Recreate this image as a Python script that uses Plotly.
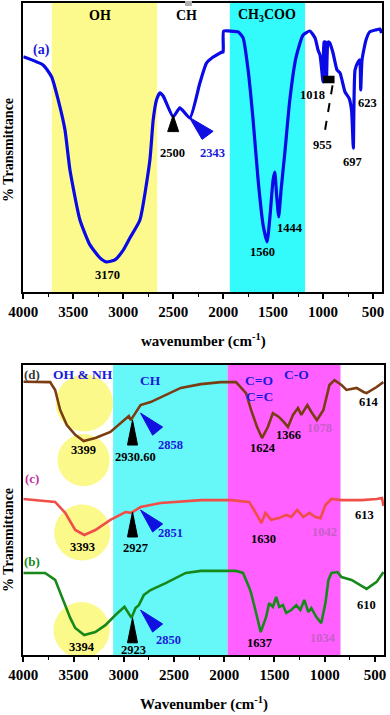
import plotly.graph_objects as go

# ---- dados ----
# painel (a)
wn_a = [4000, 3800, 3716, 3650, 3583, 3533, 3433, 3333, 3233, 3170, 3083, 3000, 2933, 2833,
        2733, 2700, 2667, 2633, 2600, 2500, 2433, 2333, 2233, 2167, 2100, 2013, 2000, 1995,
        1933, 1850, 1800, 1750, 1700, 1650, 1600, 1560, 1530, 1500, 1483, 1465, 1444, 1420,
        1380, 1333, 1270, 1200, 1133, 1080, 1050, 1030, 1000, 990, 975, 965, 950, 933, 900,
        860, 830, 780, 740, 715, 697, 680, 650, 633, 623, 610, 570, 533, 470, 430, 415]
t_a = [81.4, 78.5, 74.4, 66.4, 56.1, 42.2, 24.9, 16.3, 11.8, 10.4, 11.1, 14.5, 18.7, 24.9,
       45.7, 59.5, 66.4, 68.9, 67.8, 60.6, 63.7, 60.2, 72.3, 79.2, 81.3, 83.0, 83.0, 90.3,
       90.3, 90.0, 87.9, 76.8, 59.5, 38.8, 23.2, 17.3, 26.6, 38.8, 41.5, 33.6, 26.0, 35.3,
       49.1, 66.4, 81.3, 88.9, 90.3, 87.9, 83.7, 82.0, 72.7, 86.5, 86.5, 74.4, 86.5, 86.2, 82.7,
       76.8, 75.8, 69.2, 67.1, 63.0, 49.8, 76.8, 79.6, 80.3, 69.9, 80.3, 87.2, 90.0, 90.7, 91.0, 89.6]

# painel inferior (d), (c), (b)
wn_d = [4000, 3733, 3683, 3633, 3567, 3483, 3399, 3283, 3133, 3033, 2950, 2930, 2883, 2833,
        2733, 2583, 2433, 2233, 2033, 1883, 1783, 1733, 1673, 1624, 1566, 1516, 1456, 1406,
        1366, 1316, 1266, 1233, 1173, 1133, 1078, 1013, 953, 903, 833, 783, 683, 614, 583, 483, 416]
t_d = [94.2, 94.1, 91.4, 84.5, 79.3, 75.9, 73.8, 74.8, 76.9, 80.0, 82.4, 81.0, 83.4, 86.2,
       87.2, 89.7, 92.1, 93.4, 94.1, 94.1, 90.3, 84.5, 78.6, 74.8, 78.6, 83.4, 82.1, 80.3,
       78.6, 82.8, 85.2, 82.8, 86.2, 83.8, 81.0, 84.5, 93.1, 94.8, 93.1, 91.4, 92.1, 90.7, 90.3, 92.4, 94.1]

wn_c = [4000, 3683, 3583, 3483, 3393, 3283, 3133, 2983, 2927, 2833, 2633, 2233, 1933, 1753,
        1703, 1650, 1630, 1590, 1533, 1456, 1383, 1333, 1273, 1213, 1153, 1093, 1042, 993,
        933, 833, 633, 483, 430, 415]
t_c = [53.8, 52.8, 49.0, 43.1, 41.4, 43.1, 46.6, 49.3, 49.0, 51.0, 52.4, 53.4, 53.4, 52.8,
       50.0, 46.6, 45.5, 49.0, 46.6, 47.2, 48.3, 47.6, 50.0, 47.6, 49.0, 47.6, 47.2, 51.7,
       53.8, 53.4, 53.4, 53.8, 54.1, 51.4]

wn_b = [4000, 3783, 3683, 3633, 3583, 3533, 3483, 3394, 3283, 3183, 3083, 2993, 2923, 2883,
        2850, 2800, 2733, 2583, 2383, 2233, 1883, 1813, 1753, 1733, 1683, 1637, 1583, 1553,
        1516, 1483, 1453, 1416, 1383, 1333, 1283, 1243, 1203, 1163, 1133, 1083, 1034, 993,
        963, 933, 873, 833, 733, 653, 610, 583, 483, 415]
t_b = [28.3, 28.3, 25.9, 21.7, 17.2, 12.8, 9.3, 6.9, 7.9, 10.3, 13.8, 16.6, 12.8, 16.2,
       17.2, 20.7, 22.4, 24.8, 28.3, 29.0, 29.0, 28.3, 23.4, 21.4, 14.5, 7.9, 13.1, 17.9,
       16.6, 20.0, 16.6, 17.2, 14.5, 15.5, 17.2, 15.5, 19.0, 14.8, 16.2, 13.1, 11.0, 17.9,
       25.9, 28.3, 28.6, 26.9, 25.9, 24.1, 23.1, 22.8, 25.2, 28.6]

# rotulos dos picos: (texto, x, y, cor)
picos_a = [("3170", 3153, 5.9, "black"), ("2500", 2503, 48.1, "black"), ("2343", 2103, 48.1, "#1a1adc"),
           ("1560", 1603, 13.8, "black"), ("1444", 1333, 22.1, "black"), ("1018", 1103, 68.2, "black"),
           ("955", 1003, 50.9, "black"), ("697", 703, 45.0, "black"), ("623", 553, 65.4, "black")]
picos_baixo = [("3399", 3403, 70.7, "black"), ("2930.60", 2883, 68.3, "black"), ("2858", 2533, 72.4, "#1a1adc"),
               ("1624", 1613, 71.4, "black"), ("1366", 1363, 75.9, "black"), ("1078", 1053, 78.3, "#c85ec8"),
               ("614", 563, 87.2, "black"),
               ("3393", 3413, 37.2, "black"), ("2927", 2883, 36.9, "black"), ("2851", 2533, 42.1, "#1a1adc"),
               ("1630", 1613, 40.0, "black"), ("1042", 1003, 42.4, "#c85ec8"), ("613", 603, 48.3, "black"),
               ("3394", 3413, 2.8, "black"), ("2923", 2903, 1.7, "black"), ("2850", 2553, 5.2, "#1a1adc"),
               ("1637", 1653, 4.1, "black"), ("1034", 1013, 5.9, "#c85ec8"), ("610", 583, 17.2, "black")]

# picos marcados com triangulos (x do vertice, y do vertice)
tri_preto_baixo = [(2913, 81.0), (2913, 49.3), (2913, 12.8)]
tri_azul_baixo = [(2833, 83.4), (2833, 50.0), (2833, 15.5)]

FONTE = "Liberation Serif"

fig = go.Figure()

fig.add_trace(go.Scatter(x=wn_a, y=t_a, mode="lines", line=dict(color="#0a0ae6", width=3.2, shape="spline", smoothing=0.5),
                         xaxis="x", yaxis="y", showlegend=False))
fig.add_trace(go.Scatter(x=wn_d, y=t_d, mode="lines", line=dict(color="#7a3c12", width=2.6),
                         xaxis="x2", yaxis="y2", showlegend=False))
fig.add_trace(go.Scatter(x=wn_c, y=t_c, mode="lines", line=dict(color="#f04e48", width=2.6),
                         xaxis="x2", yaxis="y2", showlegend=False))
fig.add_trace(go.Scatter(x=wn_b, y=t_b, mode="lines", line=dict(color="#17891a", width=2.6),
                         xaxis="x2", yaxis="y2", showlegend=False))

shapes = []
# faixas do painel (a)
shapes.append(dict(type="rect", xref="x", yref="y", x0=3715, x1=2660, y0=0, y1=100,
                   fillcolor="#fcfa8c", line_width=0, layer="below"))
shapes.append(dict(type="rect", xref="x", yref="y", x0=1933, x1=1180, y0=0, y1=100,
                   fillcolor="#33fbfb", line_width=0, layer="below"))
# faixas do painel inferior
shapes.append(dict(type="rect", xref="x2", yref="y2", x0=3106, x1=1966, y0=-1, y1=100,
                   fillcolor="#66f8f8", line_width=0, layer="below"))
shapes.append(dict(type="rect", xref="x2", yref="y2", x0=1966, x1=843, y0=0, y1=100.7,
                   fillcolor="#ff60ff", line_width=0, layer="below"))
for cx, cy, r in [(3393, 86.9, 28.5), (3400, 67.2, 26), (3413, 42.2, 28), (3420, 8.6, 28)]:
    shapes.append(dict(type="circle", xref="x2", yref="y2", x0=cx + r * 10, x1=cx - r * 10,
                       y0=cy - r / 2.9, y1=cy + r / 2.9, fillcolor="#fbf98a", line_width=0, layer="below"))


def triangulo(xr, yr, pts, cor):
    path = "M " + " L ".join(f"{x},{y}" for x, y in pts) + " Z"
    return dict(type="path", xref=xr, yref=yr, path=path, fillcolor=cor, line=dict(color=cor, width=1))


# triangulos painel (a)
shapes.append(triangulo("x", "y", [(2500, 61.2), (2555, 55.5), (2445, 55.5)], "black"))
shapes.append(triangulo("x", "y", [(2340, 60.5), (2100, 55.6), (2210, 52.8)], "#1010e0"))
# marca 1018 e linha tracejada ate 955
shapes.append(dict(type="rect", xref="x", yref="y", x0=1000, x1=885, y0=72.2, y1=74.8,
                   fillcolor="black", line_width=0))
shapes.append(dict(type="line", xref="x", yref="y", x0=905, y0=71.5, x1=985, y1=55.0,
                   line=dict(color="black", width=2, dash="dash")))
# marca cinza no topo
shapes.append(dict(type="rect", xref="paper", yref="paper", x0=185 / 390, x1=192 / 390,
                   y0=1 - 6 / 715, y1=1 - 1 / 715, fillcolor="#b0b0b0", line_width=0))

for x, y in tri_preto_baixo:
    shapes.append(triangulo("x2", "y2", [(x, y), (x + 50, y - 8.6), (x - 50, y - 8.6)], "black"))
for x, y in tri_azul_baixo:
    shapes.append(triangulo("x2", "y2", [(x, y), (x - 220, y - 4.8), (x - 120, y - 7.6)], "#1010e0"))

anots = []


def txt(texto, x, y, cor, xr, yr, tam=12.5):
    anots.append(dict(text=f"<b>{texto}</b>", x=x, y=y, xref=xr, yref=yr, showarrow=False,
                      font=dict(family=FONTE, size=tam, color=cor), xanchor="center", yanchor="middle"))


for t, x, y, c in picos_a:
    txt(t, x, y, c, "x", "y")
for t, x, y, c in picos_baixo:
    txt(t, x, y, c, "x2", "y2")

txt("OH", 3233, 95.8, "black", "x", "y", 14)
txt("CH", 2363, 95.8, "black", "x", "y", 14)
txt("CH<sub>3</sub>COO", 1563, 95.8, "black", "x", "y", 14)
txt("(a)", 3813, 83.7, "#1a1adc", "x", "y", 14)

txt("(d)", 3913, 96.6, "#3a3a3a", "x2", "y2", 13)
txt("(c)", 3913, 60.7, "#c0309a", "x2", "y2", 13)
txt("(b)", 3913, 32.1, "#17891a", "x2", "y2", 13)
txt("OH &amp; NH", 3403, 96.6, "#1a1adc", "x2", "y2", 13.5)
txt("CH", 2733, 94.8, "#1a1adc", "x2", "y2", 13.5)
txt("C=O", 1653, 94.8, "#1a1adc", "x2", "y2", 13.5)
txt("C-O", 1283, 96.6, "#1a1adc", "x2", "y2", 13.5)
txt("C=C", 1653, 89.0, "#1a1adc", "x2", "y2", 13.5)

# titulos dos eixos
txt("wavenumber (cm<sup>-1</sup>)", 0.523, 1 - 340 / 715, "black", "paper", "paper", 15)
txt("Wavenumber (cm<sup>-1</sup>)", 0.523, 1 - 703 / 715, "black", "paper", "paper", 15)
for yc in [150, 540]:
    anots.append(dict(text="<b>% Transmittance</b>", x=8 / 390, y=1 - yc / 715, xref="paper", yref="paper",
                      showarrow=False, textangle=-90, font=dict(family=FONTE, size=14, color="black"),
                      xanchor="center", yanchor="middle"))

eixo_x = dict(range=[4000, 410], tickvals=[4000, 3500, 3000, 2500, 2000, 1500, 1000, 500],
              ticks="outside", ticklen=5, tickwidth=1.5, tickcolor="black", automargin=False,
              minor=dict(dtick=250, tick0=0, ticks="outside", ticklen=3, tickwidth=1.2, tickcolor="black"),
              showline=True, linecolor="black", linewidth=1.8, mirror=True, showgrid=False, zeroline=False,
              tickfont=dict(family=FONTE, size=15, color="black", weight="bold"))
eixo_y = dict(range=[0, 100], showticklabels=False, ticks="", showline=True, linecolor="black",
              linewidth=1.8, mirror=True, showgrid=False, zeroline=False, fixedrange=True, automargin=False)

fig.update_layout(
    width=390, height=715,
    margin=dict(l=0, r=0, t=0, b=0, autoexpand=False),
    paper_bgcolor="white", plot_bgcolor="white",
    xaxis=dict(eixo_x, domain=[23.3 / 390, 382 / 390], anchor="y"),
    yaxis=dict(eixo_y, domain=[1 - 292 / 715, 1 - 3 / 715], anchor="x"),
    xaxis2=dict(eixo_x, domain=[23.3 / 390, 384 / 390], anchor="y2"),
    yaxis2=dict(eixo_y, domain=[1 - 655 / 715, 1 - 365 / 715], anchor="x2"),
    shapes=shapes,
    annotations=anots,
    showlegend=False,
)

# tira a margem padrao do <body> para a figura ocupar a janela inteira
fig.write_html("out.html", config={"displayModeBar": False},
               post_script="document.body.style.margin='0';")
